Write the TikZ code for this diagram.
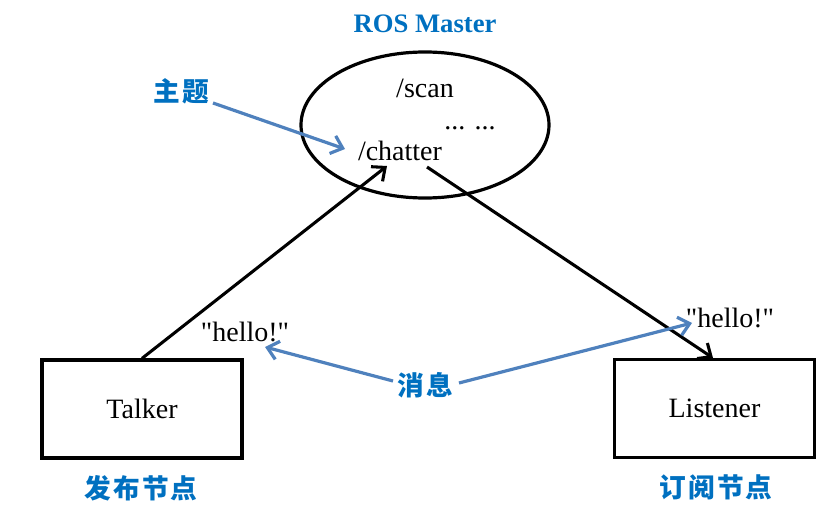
\documentclass[tikz,border=0pt]{standalone}
\usepackage{fontspec}
\setmainfont{Liberation Serif}
\newfontfamily\cjk[LetterSpace=8]{Noto Sans CJK SC}
\usetikzlibrary{arrows.meta,shapes.geometric}
\definecolor{rosblue}{RGB}{0,112,192}
\definecolor{arrblue}{RGB}{79,129,189}
\tikzset{
  txt/.style={font=\fontsize{21}{24}\selectfont, inner sep=0pt},
  cjklabel/.style={font=\cjk\bfseries\fontsize{20}{22}\selectfont, text=rosblue, inner sep=0pt},
  box/.style={draw=black, line width=2.4pt, minimum width=150pt, minimum height=73.5pt, font=\fontsize{21}{24}\selectfont},
  blk/.style={draw=black, line width=2.3pt, -{Straight Barb[length=8pt,width=14pt,line width=2.3pt]}},
  blu/.style={draw=arrblue, line width=2.4pt, -{Straight Barb[length=8pt,width=14pt,line width=2.4pt]}},
}
\begin{document}
\begin{tikzpicture}[x=0.75pt,y=-0.75pt]
\useasboundingbox (0,0) rectangle (833,514);
% ROS master
\node[draw=black, line width=2.4pt, ellipse, minimum width=186pt, minimum height=109.5pt, inner sep=0pt] (master) at (425,125) {};
\node[font=\bfseries\fontsize{20}{24}\selectfont, text=rosblue, inner sep=0pt] (rostitle) at (425,24) {ROS Master};
\node[txt] (scan) at (425,88) {/scan};
\node[txt] (dots) at (470,128) {... ...};
\node[txt] (chatter) at (400,151) {/chatter};
% topic label
\node[cjklabel] (topic) at (181,91) {主题};
% boxes
\node[box] (talker) at (142,409) {Talker};
\node[box] (listener) at (714.5,408.5) {Listener};
\node[cjklabel] (pub) at (141,488) {发布节点};
\node[cjklabel] (sub) at (716,487) {订阅节点};
% messages
\node[txt] (hello1) at (245,332) {\textquotedbl hello!\textquotedbl};
\node[txt] (hello2) at (730,318) {\textquotedbl hello!\textquotedbl};
\node[cjklabel] (msg) at (425,385) {消息};
% connector end points
\coordinate (chatIn) at (387,166);
\coordinate (chatOut) at (427,167);
\coordinate (lisIn) at (713,358);
\coordinate (topicOut) at (213,103);
\coordinate (chatL) at (345,149);
\coordinate (msgL) at (393,381);
\coordinate (msgR) at (459,383);
\coordinate (h1) at (265,347);
\coordinate (h2) at (692,323);
% connectors
\draw[blk] (talker.north) -- (chatIn);
\draw[blk] (chatOut) -- (lisIn);
\draw[blu] (topicOut) -- (chatL);
\draw[blu] (msgL) -- (h1);
\draw[blu] (msgR) -- (h2);
\end{tikzpicture}
\end{document}
